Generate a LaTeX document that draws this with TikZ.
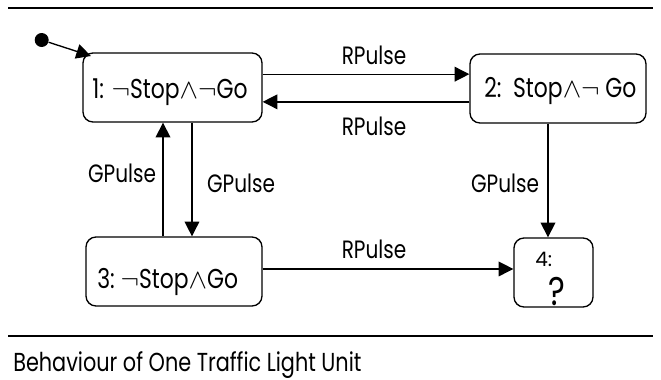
\documentclass[tikz,border=0pt]{standalone}
\usepackage{fontspec}
\setmainfont[FakeStretch=0.8]{Poppins}
\newfontfamily\widefont{Poppins}
\usetikzlibrary{arrows.meta}
\newcommand{\myneg}{\ensuremath{\neg}}
\newcommand{\myand}{\ensuremath{\wedge}}
\begin{document}
\begin{tikzpicture}[x=0.75pt,y=-0.75pt,
  state/.style={draw, line width=1pt, rounded corners=7.5pt, inner sep=0pt, minimum height=51.75pt},
  arr/.style={line width=1pt, -{Triangle[length=11pt,width=11pt]}},
  lbl/.style={font=\fontsize{18.8}{20}\selectfont, inner sep=0pt, anchor=base},
  stxt/.style={font=\fontsize{20.5}{23}\selectfont, inner sep=0pt, anchor=base west},
  rule/.style={line width=1.1pt}]
\useasboundingbox (0,0) rectangle (661,379);
\draw[rule] (8,8) -- (653,8);
\draw[rule] (8,336) -- (653,336);
\node[font=\fontsize{19.5}{21}\selectfont, inner sep=0pt, anchor=base west] (cap) at (13,371) {Behaviour of One Traffic Light Unit};
% states
\node[state, minimum width=134.25pt] (b1) at (172.5,87.5) {};
\node[state, minimum width=132pt] (b2) at (558,88.5) {};
\node[state, minimum width=132pt] (b3) at (174,271.5) {};
\node[state, minimum width=59.25pt] (b4) at (553.5,272.5) {};
\node[stxt] (t1) at (92,98) {1: \myneg Stop\myand\myneg Go};
\node[stxt] (t2) at (484,97) {2:\ \ Stop\myand\myneg\ Go};
\node[stxt] (t3) at (97,288) {3:\ \myneg Stop\myand Go};
\node[font=\widefont\fontsize{15}{17}\selectfont, inner sep=0pt, anchor=base west] (t4) at (535,266) {4:};
\node[font=\fontsize{30}{32}\selectfont, inner sep=0pt] (q4) at (557,291) {?};
% initial
\node[circle, fill, inner sep=0pt, minimum size=10.5pt] (init) at (41.7,40) {};
\coordinate (itip) at (91,56);
\draw[arr] (init) -- (itip);
% transitions
\draw[arr] ([yshift=10pt]b1.east) -- ([yshift=10pt]b1.east -| b2.west);
\draw[arr] ([yshift=-10pt]b2.west) -- ([yshift=-10pt]b2.west -| b1.east);
\draw[arr] ([xshift=-8.25pt]b3.north) -- ([xshift=-8.25pt]b3.north |- b1.south);
\draw[arr] ([xshift=14.6pt]b1.south) -- ([xshift=14.6pt]b1.south |- b3.north);
\draw[arr] ([xshift=-7.5pt]b2.south) -- ([xshift=-7.5pt]b2.south |- b4.north);
\draw[arr] ([yshift=1.9pt]b3.east) -- ([yshift=1.9pt]b3.east -| b4.west);
% labels
\node[lbl] (l12) at (374,64) {RPulse};
\node[lbl] (l21) at (374,135) {RPulse};
\node[lbl] (l31) at (122,182) {GPulse};
\node[lbl] (l13) at (241,192) {GPulse};
\node[lbl] (l24) at (505,192) {GPulse};
\node[lbl] (l34) at (374,258) {RPulse};
\end{tikzpicture}
\end{document}
